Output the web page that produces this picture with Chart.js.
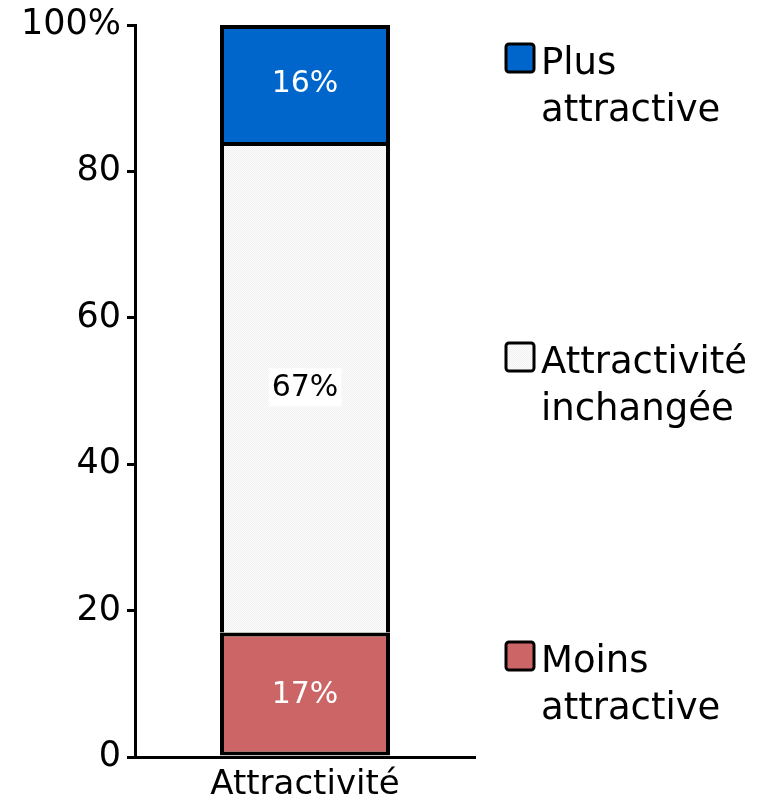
<!DOCTYPE html>
<html>
<head>
<meta charset="utf-8">
<script src="https://cdn.jsdelivr.net/npm/chart.js@4"></script>
<style>
  html, body { margin: 0; padding: 0; background: #fff; }
  #wrap { width: 764px; height: 803px; }
</style>
</head>
<body>
<div id="wrap"><canvas id="chart" width="764" height="803"></canvas></div>
<script>
// ── data ──────────────────────────────────────────────────────────────────
const categories = ['Attractivité'];
const seriesNames = ['Moins attractive', 'Attractivité inchangée', 'Plus attractive'];
const legendLines = [['Moins', 'attractive'], ['Attractivité', 'inchangée'], ['Plus', 'attractive']];
const moins = [17];
const inchangee = [67];
const plus = [16];
const yTicks = [0, 20, 40, 60, 80, 100];

const FONT = '"DejaVu Sans", Verdana, sans-serif';

// light dotted fill for the middle block
function dotPattern() {
  const c = document.createElement('canvas');
  c.width = 2; c.height = 2;
  const g = c.getContext('2d');
  g.fillStyle = '#fdfdfd'; g.fillRect(0, 0, 2, 2);
  g.fillStyle = '#f0f0f0'; g.fillRect(0, 0, 1, 1); g.fillRect(1, 1, 1, 1);
  return g.createPattern(c, 'repeat');
}
const grey = dotPattern();

const colors = ['#cc6666', grey, '#0066cc'];
const labelColors = ['#fff', '#000', '#fff'];
// legend box top y for each series (bottom to top order as above)
const legendY = [642, 343, 44];

const segLabels = {
  id: 'segLabels',
  afterDatasetsDraw(chart) {
    const ctx = chart.ctx;
    ctx.save();
    ctx.font = `30px ${FONT}`;
    ctx.textAlign = 'center';
    ctx.textBaseline = 'middle';
    chart.data.datasets.forEach((ds, i) => {
      chart.getDatasetMeta(i).data.forEach((bar, j) => {
        const txt = ds.data[j] + '%';
        const y = (bar.y + bar.base) / 2;
        if (i === 1) {
          const w = ctx.measureText(txt).width;
          ctx.fillStyle = '#fff';
          ctx.fillRect(bar.x - w / 2 - 3, y - 19, w + 6, 38);
        }
        ctx.fillStyle = labelColors[i];
        ctx.fillText(txt, bar.x, y + 1);
      });
    });
    ctx.restore();
  },
};

const sideLegend = {
  id: 'sideLegend',
  afterDraw(chart) {
    const ctx = chart.ctx;
    ctx.save();
    ctx.font = `37px ${FONT}`;
    ctx.textBaseline = 'alphabetic';
    ctx.textAlign = 'left';
    seriesNames.forEach((name, i) => {
      const y = legendY[i];
      ctx.beginPath();
      ctx.roundRect(506, y, 28, 28, 3);
      ctx.fillStyle = colors[i];
      ctx.fill();
      ctx.lineWidth = 3;
      ctx.strokeStyle = '#000';
      ctx.stroke();
      ctx.fillStyle = '#000';
      legendLines[i].forEach((line, k) => {
        ctx.fillText(line, 541, y + 30 + k * 47);
      });
    });
    ctx.restore();
  },
};

new Chart(document.getElementById('chart'), {
  type: 'bar',
  data: {
    labels: categories,
    datasets: [
      { label: seriesNames[0], data: moins },
      { label: seriesNames[1], data: inchangee },
      { label: seriesNames[2], data: plus },
    ].map((d, i) => ({
      ...d,
      backgroundColor: colors[i],
      borderColor: '#000',
      borderWidth: i === 0 ? 4 : { top: 4, left: 4, right: 4, bottom: 0 },
      borderSkipped: false,
      barPercentage: 0.5,
      categoryPercentage: 1,
    })),
  },
  options: {
    responsive: false,
    animation: false,
    layout: { padding: { top: 25, right: 289, left: 0, bottom: 0 } },
    plugins: { legend: { display: false }, tooltip: { enabled: false } },
    scales: {
      x: {
        stacked: true,
        grid: { display: false },
        border: { color: '#000', width: 3 },
        ticks: { color: '#000', font: { family: FONT, size: 34 }, padding: 0 },
        afterFit: (s) => { s.height = 46; },
      },
      y: {
        stacked: true,
        min: 0,
        max: 100,
        afterBuildTicks: (s) => { s.ticks = yTicks.map((v) => ({ value: v })); },
        grid: { drawOnChartArea: false, tickLength: 8, tickColor: '#000', lineWidth: 3 },
        border: { color: '#000', width: 3 },
        ticks: {
          color: '#000',
          padding: 6,
          font: { family: FONT, size: 35, lineHeight: 1 },
          callback: (v) => (v === 100 ? '100%' : String(v)),
        },
        afterFit: (s) => { s.width = 135; },
      },
    },
  },
  plugins: [segLabels, sideLegend],
});
</script>
</body>
</html>
